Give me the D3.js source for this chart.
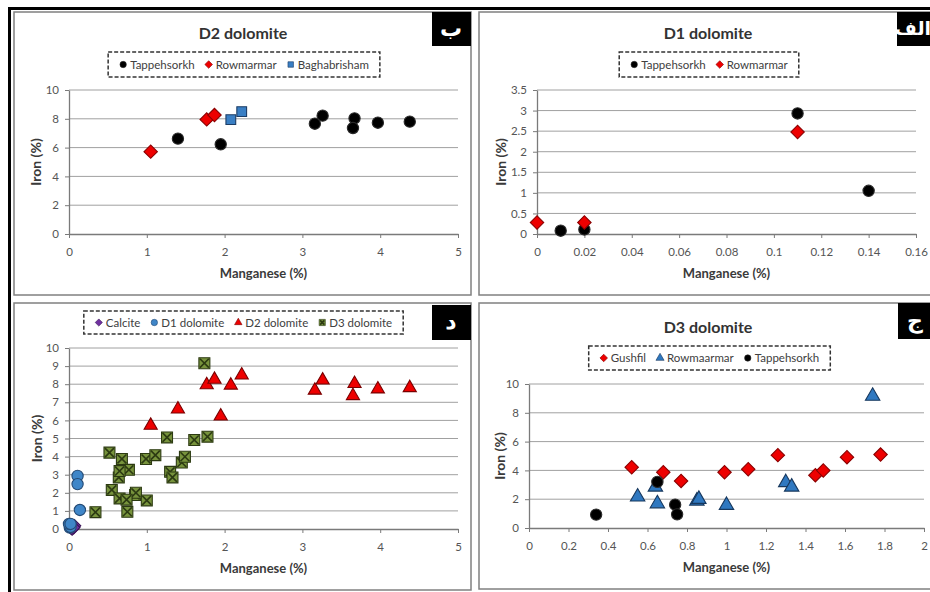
<!DOCTYPE html>
<html>
<head>
<meta charset="utf-8">
<script src="https://cdn.jsdelivr.net/npm/d3@7"></script>
<style>
body { margin: 0; background: #fff; }
text { font-family: Lato, "Open Sans", sans-serif; }
</style>
</head>
<body>
<div id="chart"></div>
<script>
// Datos: [manganeso %, hierro %]
var d1Tappehsorkh = [[0.01, 0.08], [0.02, 0.11], [0.11, 2.93], [0.14, 1.05]]
var d1Rowmarmar = [[0, 0.28], [0.02, 0.28], [0.11, 2.48]]

var d2Tappehsorkh = [[1.40, 6.62], [1.95, 6.23], [3.16, 7.66], [3.26, 8.22], [3.67, 8.03], [3.65, 7.36], [3.97, 7.73], [4.38, 7.80]]
var d2Rowmarmar = [[1.05, 5.72], [1.77, 7.96], [1.87, 8.26]]
var d2Baghabrisham = [[2.08, 7.94], [2.22, 8.50]]

var d3Gushfil = [[0.52, 4.22], [0.68, 3.87], [0.77, 3.27], [0.99, 3.87], [1.11, 4.08], [1.26, 5.06], [1.45, 3.67], [1.49, 3.99], [1.61, 4.92], [1.78, 5.10]]
var d3Rowmaarmar = [[0.55, 2.16], [0.64, 2.85], [0.65, 1.69], [0.85, 1.88], [0.86, 2.00], [1.00, 1.58], [1.30, 3.16], [1.33, 2.85], [1.74, 9.16]]
var d3Tappehsorkh = [[0.34, 0.93], [0.65, 3.20], [0.74, 1.62], [0.75, 0.95]]

var calcite = [[0.03, 0.05], [0.05, 0.12], [0.07, 0.18], [0.04, 0.0], [0.06, 0.08]]

// Ticks
var ticksMn5 = [0, 1, 2, 3, 4, 5]
var ticksMnD1 = [0, 0.02, 0.04, 0.06, 0.08, 0.1, 0.12, 0.14, 0.16]
var ticksMnD3 = [0, 0.2, 0.4, 0.6, 0.8, 1, 1.2, 1.4, 1.6, 1.8, 2]
var ticksFe10by2 = [0, 2, 4, 6, 8, 10]
var ticksFeD1 = [0, 0.5, 1, 1.5, 2, 2.5, 3, 3.5]
var ticksFe10by1 = [0, 1, 2, 3, 4, 5, 6, 7, 8, 9, 10]

// Estilos de marcadores
var estilos = {
    negro:    {shape: "circle",   fill: "#000000", stroke: "#2a2a2a", size: 100},
    rojoDiam: {shape: "diamond",  fill: "#ee0000", stroke: "#8a0000", size: 90},
    azulCuad: {shape: "square",   fill: "#3a7fc4", stroke: "#1c3d66", size: 95},
    azulCirc: {shape: "circle",   fill: "#3f86c8", stroke: "#244a75", size: 100},
    rojoTri:  {shape: "triangle", fill: "#ee0000", stroke: "#7a0000", size: 75},
    azulTri:  {shape: "triangle", fill: "#2f78c0", stroke: "#17385e", size: 90},
    verdeX:   {shape: "xsquare",  fill: "#77933c", stroke: "#2c3a12", size: 120},
    morado:   {shape: "diamond",  fill: "#7030a0", stroke: "#3b1458", size: 80}
}

var width = 930, height = 592

var svg = d3.select("#chart").append("svg")
    .attr("width", width)
    .attr("height", height)

svg.append("rect").attr("width", width).attr("height", height).attr("fill", "#fff")

function dibujaMarcador(g, est, escala) {
    var area = est.size * escala
    var p
    if (est.shape == "circle") {
        p = g.append("path").attr("d", d3.symbol(d3.symbolCircle, area)())
    } else if (est.shape == "triangle") {
        p = g.append("path").attr("d", d3.symbol(d3.symbolTriangle, area)())
    } else if (est.shape == "diamond") {
        p = g.append("path").attr("d", d3.symbol(d3.symbolSquare, area)()).attr("transform", "rotate(45)")
    } else {
        p = g.append("path").attr("d", d3.symbol(d3.symbolSquare, area)())
    }
    p.attr("fill", est.fill).attr("stroke", est.stroke).attr("stroke-width", escala < 1 ? 0.6 : 1.1)
    if (est.shape == "xsquare") {
        var h = Math.sqrt(area) / 2 - 1
        g.append("path")
            .attr("d", "M" + (-h) + "," + (-h) + "L" + h + "," + h + "M" + (-h) + "," + h + "L" + h + "," + (-h))
            .attr("stroke", est.stroke).attr("stroke-width", 1.6).attr("fill", "none")
    }
}

function panel(cfg) {
    var g = svg.append("g")

    // marco del panel
    g.append("rect")
        .attr("x", cfg.box[0]).attr("y", cfg.box[1])
        .attr("width", cfg.box[2]).attr("height", cfg.box[3])
        .attr("fill", "#fff").attr("stroke", "#808080").attr("stroke-width", 1.5)

    var x = d3.scaleLinear().domain(cfg.xDomain).range([cfg.plot[0], cfg.plot[1]])
    var y = d3.scaleLinear().domain(cfg.yDomain).range([cfg.plot[3], cfg.plot[2]])

    // lineas de rejilla
    g.append("g").selectAll("line")
        .data(cfg.yTicks.filter(d => d != cfg.yDomain[0]))
        .join("line")
        .attr("x1", cfg.plot[0]).attr("x2", cfg.plot[1])
        .attr("y1", d => y(d)).attr("y2", d => y(d))
        .attr("stroke", "#a0a0a0").attr("stroke-width", 1)

    var xAxis = g.append("g")
        .attr("transform", "translate(0," + cfg.plot[3] + ")")
        .call(d3.axisBottom(x).tickValues(cfg.xTicks).tickSizeInner(4).tickSizeOuter(0).tickPadding(10).tickFormat(d3.format("")))
    var yAxis = g.append("g")
        .attr("transform", "translate(" + cfg.plot[0] + ",0)")
        .call(d3.axisLeft(y).tickValues(cfg.yTicks).tickSizeInner(4).tickSizeOuter(0).tickPadding(6).tickFormat(d3.format("")))

    ;[xAxis, yAxis].forEach(function (a) {
        a.select(".domain").attr("stroke", "#7a7a7a").attr("stroke-width", 1.3)
        a.selectAll(".tick line").attr("stroke", "#7a7a7a")
        a.selectAll(".tick text").attr("fill", "#555").style("font-size", "11.5px").style("font-family", "Lato, sans-serif")
    })

    // titulos de ejes
    g.append("text")
        .attr("x", (cfg.plot[0] + cfg.plot[1]) / 2 + cfg.xTitleDx).attr("y", cfg.plot[3] + 44)
        .attr("text-anchor", "middle").attr("font-weight", "bold").attr("font-size", "13px").attr("fill", "#3a3a3a")
        .text("Manganese (%)")
    g.append("text")
        .attr("transform", "translate(" + cfg.yTitleX + "," + (cfg.plot[2] + cfg.plot[3]) / 2 + ")rotate(-90)")
        .attr("text-anchor", "middle").attr("dy", "0.35em").attr("font-weight", "bold").attr("font-size", "14px").attr("fill", "#3a3a3a")
        .text("Iron (%)")

    // puntos
    cfg.series.forEach(function (s) {
        g.append("g").selectAll("g")
            .data(s.data)
            .join("g")
            .attr("transform", d => "translate(" + x(d[0]) + "," + y(d[1]) + ")")
            .each(function () { dibujaMarcador(d3.select(this), s.estilo, 1) })
    })

    // titulo
    if (cfg.title) {
        g.append("text")
            .attr("x", cfg.titlePos[0]).attr("y", cfg.titlePos[1])
            .attr("text-anchor", "middle").attr("font-weight", "bold").attr("font-size", "16px").attr("fill", "#333")
            .text(cfg.title)
    }

    // leyenda
    var leg = g.append("g")
    var cx = cfg.legend[0], cy = cfg.legend[1], lh = cfg.legend[2]
    var items = []
    var pos = 0
    cfg.series.forEach(function (s, i) {
        var it = leg.append("g")
        dibujaMarcador(it, s.estilo, 0.32)
        var t = it.append("text").attr("x", 7).attr("dy", "0.35em")
            .attr("font-size", "11.5px").attr("fill", "#404040").text(s.name)
        var w = 7 + t.node().getComputedTextLength()
        items.push({g: it, x: pos})
        pos += w + (i < cfg.series.length - 1 ? 14 : 0)
    })
    var pad = 12
    var boxW = pos + pad * 2
    var left = cx - boxW / 2
    items.forEach(function (it) { it.g.attr("transform", "translate(" + (left + pad + 3 + it.x) + "," + cy + ")") })
    leg.insert("rect", ":first-child")
        .attr("x", left).attr("y", cy - lh / 2).attr("width", boxW + 2).attr("height", lh)
        .attr("fill", "#fff").attr("stroke", "#333").attr("stroke-width", 1.5).attr("stroke-dasharray", "4,2")

    // etiqueta del panel
    g.append("rect")
        .attr("x", cfg.tag[0]).attr("y", cfg.tag[1]).attr("width", cfg.tag[2]).attr("height", cfg.tag[3])
        .attr("fill", "#000")
    g.append("text")
        .attr("x", cfg.tag[0] + cfg.tagTextX).attr("y", cfg.tag[1] + cfg.tag[3] / 2)
        .attr("dy", "0.3em").attr("text-anchor", "middle")
        .style("font-family", "'DejaVu Sans', sans-serif").attr("font-weight", "bold").attr("font-size", cfg.tagSize)
        .attr("fill", "#fff")
        .text(cfg.tagText)
}

// Panel ب : D2 dolomite
panel({
    box: [14, 12, 457, 283],
    plot: [69, 458, 90, 234],
    xDomain: [0, 5], yDomain: [0, 10],
    xTicks: ticksMn5, yTicks: ticksFe10by2,
    xTitleDx: 0, yTitleX: 36,
    title: "D2 dolomite", titlePos: [243, 39],
    legend: [243, 64.5, 25],
    tag: [432, 12, 39, 34], tagText: "ب", tagTextX: 19, tagSize: "22px",
    series: [
        {name: "Tappehsorkh", data: d2Tappehsorkh, estilo: estilos.negro},
        {name: "Rowmarmar", data: d2Rowmarmar, estilo: estilos.rojoDiam},
        {name: "Baghabrisham", data: d2Baghabrisham, estilo: estilos.azulCuad}
    ]
})

// Panel الف : D1 dolomite
panel({
    box: [479, 12, 470, 283],
    plot: [537, 916, 90, 234],
    xDomain: [0, 0.16], yDomain: [0, 3.5],
    xTicks: ticksMnD1, yTicks: ticksFeD1,
    xTitleDx: 0, yTitleX: 501,
    title: "D1 dolomite", titlePos: [708, 39],
    legend: [708, 64.5, 25],
    tag: [897, 12, 45, 34], tagText: "الف", tagTextX: 16, tagSize: "19px",
    series: [
        {name: "Tappehsorkh", data: d1Tappehsorkh, estilo: estilos.negro},
        {name: "Rowmarmar", data: d1Rowmarmar, estilo: estilos.rojoDiam}
    ]
})

// Panel د : todos
panel({
    box: [14, 303, 457, 287],
    plot: [69, 458, 348, 529],
    xDomain: [0, 5], yDomain: [0, 10],
    xTicks: ticksMn5, yTicks: ticksFe10by1,
    xTitleDx: 0, yTitleX: 37,
    title: null,
    legend: [242.5, 322.5, 23],
    tag: [432, 305, 39, 35], tagText: "د", tagTextX: 19, tagSize: "22px",
    series: [
        {name: "Calcite", data: calcite, estilo: estilos.morado},
        {name: "D1 dolomite", data: d1Tappehsorkh.concat(d1Rowmarmar), estilo: estilos.azulCirc},
        {name: "D2 dolomite", data: d2Tappehsorkh.concat(d2Rowmarmar, d2Baghabrisham), estilo: estilos.rojoTri},
        {name: "D3 dolomite", data: d3Gushfil.concat(d3Rowmaarmar, d3Tappehsorkh), estilo: estilos.verdeX}
    ]
})

// Panel ج : D3 dolomite
panel({
    box: [479, 303, 470, 286],
    plot: [529, 924, 384, 528],
    xDomain: [0, 2], yDomain: [0, 10],
    xTicks: ticksMnD3, yTicks: ticksFe10by2,
    xTitleDx: 0, yTitleX: 500,
    title: "D3 dolomite", titlePos: [708, 333],
    legend: [708.5, 358, 24],
    tag: [898, 303, 40, 36], tagText: "ج", tagTextX: 17, tagSize: "22px",
    series: [
        {name: "Gushfil", data: d3Gushfil, estilo: estilos.rojoDiam},
        {name: "Rowmaarmar", data: d3Rowmaarmar, estilo: estilos.azulTri},
        {name: "Tappehsorkh", data: d3Tappehsorkh, estilo: estilos.negro}
    ]
})

// marco exterior negro
svg.append("path")
    .attr("d", "M9.5,592 L9.5,8.5 L930,8.5")
    .attr("fill", "none").attr("stroke", "#000").attr("stroke-width", 3)
</script>
</body>
</html>
